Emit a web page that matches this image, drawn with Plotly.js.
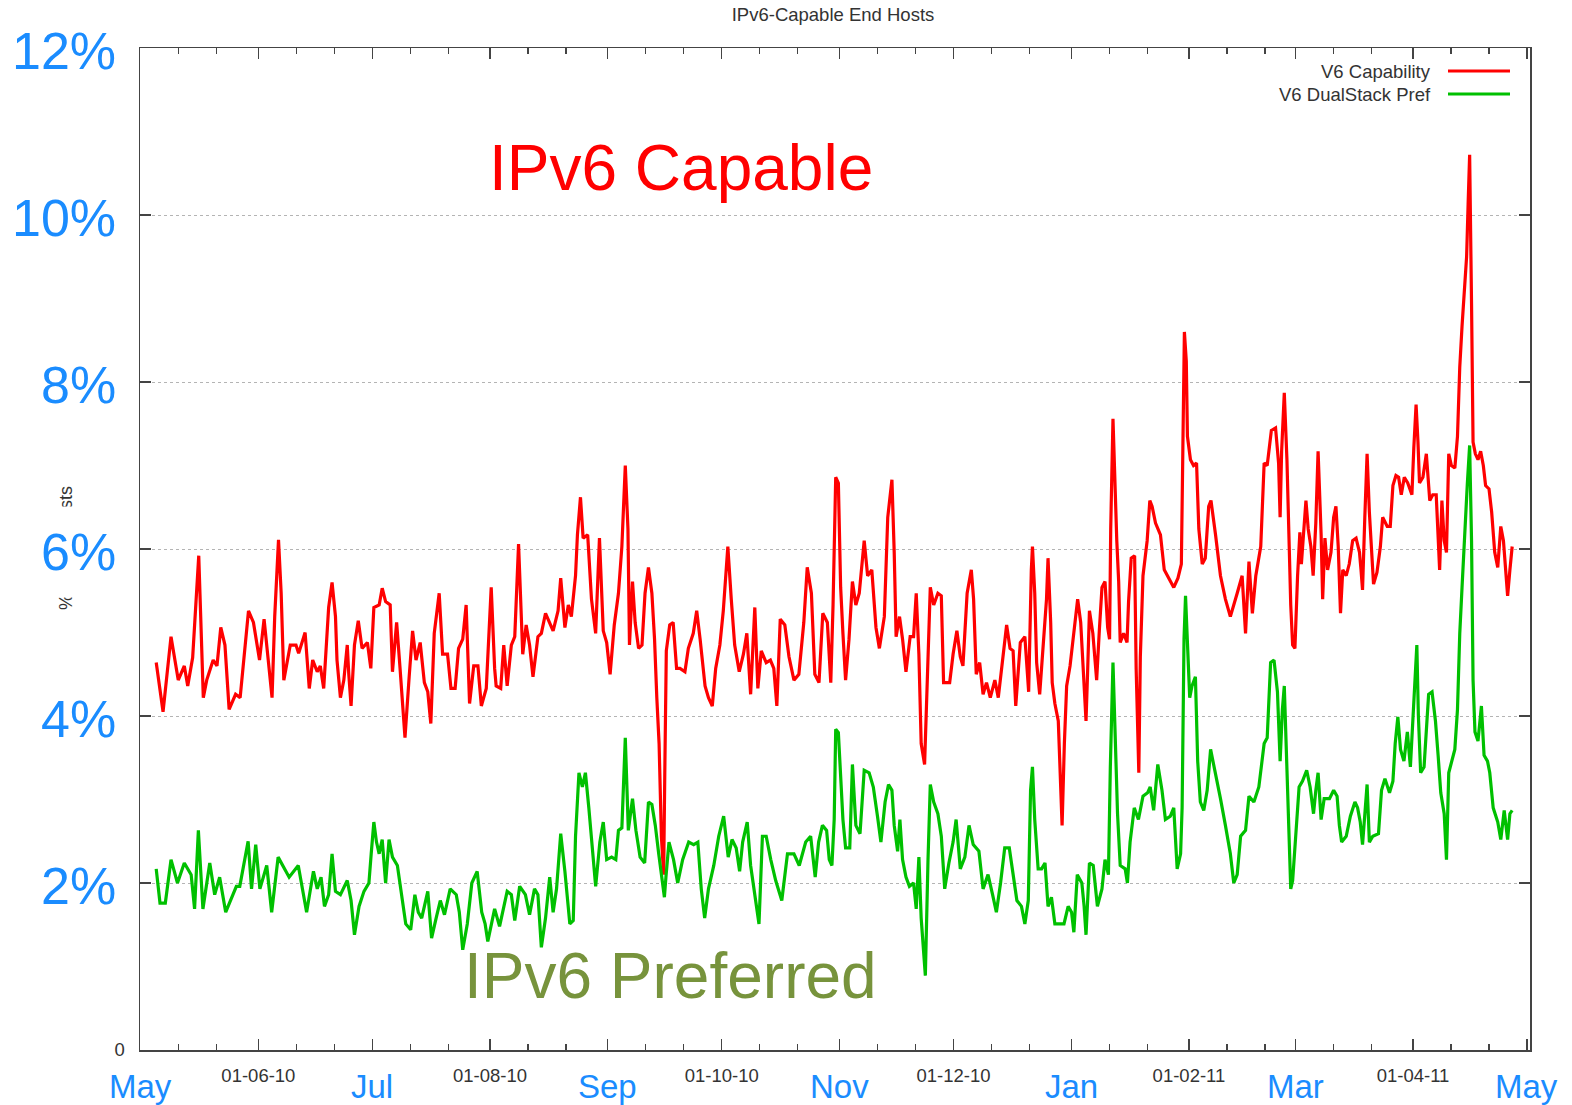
<!DOCTYPE html>
<html><head><meta charset="utf-8">
<script src="https://cdn.plot.ly/plotly-3.0.1.min.js"></script>
<style>html,body{margin:0;padding:0;background:#fff;}#chart{width:1572px;height:1105px;}</style>
</head><body><div id="chart"></div><script>
// [day offset from 2010-05-01, percent]
const capabilitySeries = [[4.1,4.64],[5.9,4.05],[8.0,4.95],[9.9,4.43],[11.5,4.6],[12.4,4.36],[13.7,4.7],[15.3,5.92],[16.5,4.22],[17.4,4.43],[19.1,4.67],[20.1,4.6],[21.1,5.06],[22.2,4.85],[23.3,4.08],[25.0,4.26],[26.2,4.22],[27.1,4.64],[28.4,5.26],[29.7,5.12],[31.3,4.67],[32.5,5.16],[33.7,4.67],[34.6,4.22],[35.3,5.19],[36.3,6.11],[37.0,5.47],[37.7,4.43],[39.4,4.85],[40.9,4.85],[41.6,4.75],[43.3,5.0],[44.4,4.33],[45.3,4.67],
[46.5,4.53],[47.3,4.6],[48.2,4.33],[49.1,5.06],[49.5,5.3],[50.4,5.6],[51.3,5.19],[51.7,4.67],[52.6,4.22],[53.5,4.43],[54.4,4.85],[54.8,4.5],[55.4,4.12],[56.3,4.85],[57.3,5.14],[58.3,4.81],[59.7,4.88],[60.6,4.57],[61.4,5.3],[62.8,5.33],[63.6,5.53],[64.5,5.37],[65.7,5.33],[66.3,4.53],[67.4,5.12],[68.3,4.57],[68.9,4.19],[69.6,3.74],[70.7,4.47],[71.6,5.02],[72.5,4.67],[73.6,4.88],[74.7,4.4],[75.6,4.29],[76.4,3.91],[77.3,4.99],[78.6,5.47],[79.5,4.74],[80.8,4.74],[81.7,4.33],[82.8,4.33],[83.7,4.81],[84.8,4.92],[85.7,5.33],[86.6,4.15],[87.7,4.6],[88.8,4.6],[89.7,4.12],[91.0,4.33],
[92.3,5.54],[93.2,4.57],[93.6,4.36],[94.8,4.33],[95.6,4.85],[96.5,4.36],[97.6,4.85],[98.5,4.95],[99.5,6.06],[100.6,4.74],[101.5,5.09],[102.4,4.85],[103.3,4.47],[104.6,4.95],[105.5,4.99],[106.6,5.23],[108.6,5.02],[109.9,5.26],[110.6,5.65],[111.7,5.06],[112.6,5.33],[113.4,5.19],[114.5,5.68],[115.0,6.17],[115.8,6.62],[116.5,6.13],[117.7,6.17],[118.7,5.4],[119.8,4.99],[120.8,6.13],[121.8,5.02],[122.7,4.88],[123.6,4.5],[124.7,5.09],[125.8,5.47],[126.7,6.03],[127.6,7.0],[128.3,6.24],[128.7,4.85],[129.5,5.61],[130.2,5.12],[131.1,4.81],[132.0,4.85],[132.8,5.47],[133.7,5.78],[134.6,5.47],[135.3,4.92],[135.9,4.22],[136.5,3.67],[137.1,2.56],[137.7,2.1],
[138.0,3.32],[138.4,4.78],[139.3,5.09],[140.2,5.12],[141.1,4.57],[142.0,4.57],[143.3,4.53],[144.2,4.81],[145.5,4.99],[146.4,5.26],[147.3,4.92],[148.6,4.36],[149.5,4.22],[150.5,4.12],[151.4,4.57],[152.5,4.85],[153.4,5.26],[154.6,6.03],[155.5,5.4],[156.4,4.85],[157.6,4.53],[158.7,4.74],[159.6,4.99],[160.6,4.26],[161.7,5.3],[162.5,4.33],[163.4,4.78],[164.7,4.64],[165.8,4.67],[166.7,4.57],[167.5,4.12],[168.4,5.16],[169.6,5.09],[170.7,4.71],[172.0,4.43],[173.3,4.5],[174.6,5.12],[175.5,5.78],[176.6,5.47],[177.5,4.5],[178.6,4.4],[179.6,5.23],[180.8,5.12],[181.7,4.4],[182.3,5.33],[183.0,6.86],
[183.7,6.79],[184.3,5.54],[184.9,4.99],[185.6,4.43],[186.5,4.92],[187.4,5.61],[188.3,5.33],[189.2,5.47],[190.5,6.1],[191.4,5.68],[192.5,5.75],[193.6,5.06],[194.5,4.81],[195.8,5.19],[196.7,6.38],[197.8,6.83],[198.4,5.96],[198.9,4.95],[199.8,5.19],[200.6,4.92],[201.5,4.53],[202.6,4.95],[203.5,4.95],[204.2,5.47],[204.9,4.74],[205.5,3.67],[206.4,3.42],[207.3,4.57],[207.9,5.54],[208.8,5.33],[209.9,5.47],[210.8,5.44],[211.4,4.4],[213.0,4.4],[213.9,4.74],[214.9,5.02],[215.8,4.71],[216.5,4.6],[217.6,5.47],[218.7,5.75],[219.3,5.4],[220.0,4.5],[220.9,4.64],[221.8,4.26],[222.7,4.4],[223.7,4.22],[224.9,4.43],[225.8,4.22],[227.1,4.74],[228.0,5.09],[228.9,4.81],
[229.7,4.78],[230.4,4.12],[231.0,4.57],[231.6,4.88],[232.8,4.95],[233.4,4.53],[233.8,4.29],[234.5,5.75],[234.8,6.03],[235.4,5.47],[235.9,4.64],[236.7,4.26],[237.4,4.67],[238.1,5.06],[238.5,5.4],[238.9,5.89],[239.6,5.12],[240.0,4.4],[240.7,4.15],[241.6,3.94],[242.0,3.32],[242.6,2.69],[243.2,3.67],[243.8,4.36],[244.7,4.6],[245.4,4.88],[246.0,5.12],[246.7,5.4],[247.5,5.12],[248.2,4.43],[248.9,3.94],[249.3,4.5],[249.8,5.26],[250.7,4.99],[251.3,4.6],[251.7,4.43],[252.4,5.02],[253.1,5.54],[253.9,5.61],[254.6,5.06],[255.1,4.92],[255.4,6.24],[256.0,7.56],[256.6,6.58],[257.0,6.1],[257.5,5.61],[257.9,4.88],[258.8,4.99],[259.7,4.88],[260.1,5.37],[260.8,5.89],[261.7,5.92],[262.1,4.57],[262.8,3.32],[263.2,4.71],[263.9,5.68],[265.0,6.1],[265.7,6.58],[266.3,6.51],[267.2,6.31],[268.5,6.17],[269.5,5.75],[270.7,5.65],[272.0,5.54],[273.1,5.65],[274.0,5.82],[274.4,7.21],[274.8,8.6],
[275.3,8.25],[275.6,7.35],[276.4,7.07],[277.2,7.0],[278.0,7.03],[278.6,6.24],[279.5,5.82],[280.3,5.89],[281.2,6.51],[281.8,6.58],[283.0,6.17],[284.3,5.68],[285.6,5.4],[286.9,5.19],[288.7,5.47],[290.0,5.68],[290.9,4.99],[291.8,5.85],[292.7,5.23],[293.6,5.68],[294.9,6.03],[295.8,7.03],[296.6,7.0],[297.7,7.42],[298.8,7.45],[299.6,7.03],[300.0,6.38],[300.4,7.17],[301.1,7.87],[301.8,7.07],[302.4,6.03],[302.8,5.33],[303.3,4.85],[303.9,4.81],[304.6,5.68],[305.2,6.2],[305.6,5.82],[306.2,6.17],[306.8,6.58],[307.4,6.24],[308.1,6.03],[308.7,5.68],[309.4,6.31],[310.0,7.17],[310.8,6.17],[311.2,5.4],[311.8,6.13],[312.5,5.75],[313.4,5.96],[314.1,6.38],[314.7,6.51],[315.3,6.03],[315.9,5.23],[316.5,5.75],[317.4,5.68],[318.2,5.82],[319.1,6.1],[320.0,6.13],[320.9,5.96],
[321.3,5.75],[321.7,5.51],[322.3,6.38],[322.9,7.14],[323.5,6.44],[323.9,6.1],[324.6,5.58],[325.5,5.72],[326.4,6.03],[327.0,6.38],[328.2,6.27],[329.0,6.27],[329.7,6.76],[330.5,6.88],[331.2,6.86],[331.9,6.65],[332.7,6.86],[333.6,6.79],[334.7,6.65],[335.2,7.21],[335.8,7.73],[336.3,7.28],[336.7,6.79],[337.6,6.86],[338.5,7.14],[339.4,6.58],[340.2,6.65],[341.1,6.65],[342.0,5.75],[342.6,6.58],[343.2,6.1],[343.8,5.96],[344.4,7.14],[345.1,7.0],[346.0,6.97],[346.7,7.35],[347.3,8.18],[347.9,8.67],[348.5,9.08],[349.1,9.5],[349.5,10.13],[349.9,10.72],[350.4,8.94],[350.8,7.28],[351.4,7.14],[352.1,7.07],[352.8,7.17],[353.5,7.0],[354.1,6.76],[355.0,6.72],[355.7,6.44],[356.5,5.96],[357.3,5.78],[358.1,6.27],[358.8,6.1],[359.4,5.75],[359.9,5.44],[360.5,5.75],[361.1,6.03]];

const dualStackSeries = [[4.1,2.17],[5.1,1.76],[6.5,1.76],[8.0,2.28],[9.7,2.0],[11.5,2.24],[13.3,2.1],[14.2,1.69],[15.2,2.63],[16.4,1.69],[18.2,2.24],[19.5,1.86],[20.8,2.07],[22.4,1.65],[25.2,1.96],[26.1,1.96],[28.3,2.5],[29.2,1.93],[30.3,2.46],[31.4,1.93],[33.2,2.21],[34.5,1.65],[36.2,2.31],[39.1,2.07],[41.5,2.21],[43.7,1.65],[45.5,2.14],
[46.5,1.93],[47.5,2.07],[48.4,1.72],[49.5,1.86],[50.4,2.35],[51.3,1.9],[52.6,1.86],[54.4,2.03],[55.4,1.79],[56.3,1.38],[57.5,1.72],[58.8,1.9],[60.1,2.0],[60.7,2.35],[61.4,2.73],[62.1,2.49],[62.8,2.35],[63.6,2.52],[64.5,2.0],[65.4,2.52],[66.3,2.31],[67.6,2.21],[68.7,1.86],[69.8,1.51],[71.1,1.44],[72.2,1.86],[73.1,1.65],[74.0,1.58],[75.6,1.9],[76.6,1.34],[77.8,1.58],[78.9,1.79],[80.0,1.62],[81.5,1.93],[83.1,1.86],[83.9,1.65],[84.8,1.2],[86.0,1.51],[87.2,2.0],[88.6,2.14],[89.8,1.65],[90.7,1.51],[91.4,1.3],
[93.2,1.69],[94.5,1.48],[96.5,1.9],[97.6,1.86],[98.5,1.55],[99.8,1.96],[101.3,1.86],[102.4,1.62],[103.7,1.93],[104.6,1.86],[105.5,1.23],[106.6,1.58],[107.7,2.07],[108.6,1.65],[109.5,1.93],[110.6,2.59],[111.7,2.14],[113.0,1.51],[113.9,1.55],[114.5,2.56],[115.4,3.32],[116.3,3.15],[117.1,3.32],[118.0,2.9],[118.9,2.42],[119.8,1.96],[120.9,2.49],[121.8,2.73],[122.7,2.28],[124.0,2.31],[125.1,2.28],[125.8,2.63],[126.7,2.66],[127.6,3.74],[128.4,2.63],[129.5,3.01],[130.4,2.63],[131.5,2.31],[132.7,2.24],[133.7,2.97],[134.6,2.94],[135.5,2.69],[136.4,2.35],[137.3,2.07],[137.9,1.83],
[138.3,2.07],[139.1,2.49],[140.3,2.28],[141.4,2.0],[142.7,2.28],[144.3,2.49],[145.6,2.46],[146.7,2.49],[147.6,1.93],[148.5,1.58],[149.5,1.93],[150.9,2.21],[152.2,2.56],[153.5,2.8],[154.7,2.31],[155.7,2.52],[156.8,2.42],[157.7,2.14],[158.5,2.49],[159.7,2.73],[160.6,2.21],[161.7,1.83],[162.8,1.51],[163.7,2.56],[164.7,2.56],[165.9,2.28],[167.2,2.03],[168.8,1.79],[170.3,2.35],[172.0,2.35],[173.4,2.21],[175.1,2.49],[176.4,2.56],[177.6,2.07],[178.5,2.49],[179.5,2.69],[180.6,2.63],[181.3,2.28],[182.0,2.21],[182.6,2.76],
[183.0,3.84],[183.7,3.8],[184.3,3.18],[184.9,2.76],[185.6,2.42],[186.7,2.42],[187.4,3.42],[188.3,2.69],[189.4,2.59],[190.5,3.35],[191.8,3.32],[192.9,3.15],[194.0,2.8],[194.9,2.49],[196.0,2.97],[196.9,3.18],[197.8,3.11],[198.4,2.69],[199.3,2.38],[199.9,2.76],[200.6,2.28],[201.5,2.07],[202.4,1.96],[203.5,2.0],[204.2,1.69],[204.9,2.31],[205.5,1.58],[206.1,1.23],[206.6,0.89],[207.3,2.28],[207.9,3.18],[208.8,2.97],[209.9,2.83],[210.8,2.56],[211.7,1.93],[212.8,2.24],[213.9,2.49],[214.7,2.76],[215.8,2.17],[217.0,2.31],[218.1,2.69],[219.2,2.46],[220.7,2.38],[221.8,1.93],[223.1,2.1],[224.3,1.86],[225.3,1.65],[226.4,2.0],[227.5,2.42],[228.7,2.42],
[229.9,2.07],[230.7,1.79],[231.9,1.72],[232.8,1.51],[233.7,1.79],[234.3,3.11],[234.8,3.39],[235.4,2.76],[236.3,2.17],[237.2,2.17],[238.1,2.24],[238.9,1.72],[239.8,1.83],[240.7,1.51],[242.0,1.51],[243.1,1.51],[244.2,1.72],[245.1,1.65],[245.7,1.41],[246.6,2.1],[247.8,2.0],[248.4,1.72],[248.9,1.38],[249.8,2.24],[250.8,2.21],[251.9,1.72],[253.1,1.93],[253.9,2.28],[254.8,2.1],[255.3,3.39],[256.0,4.64],[256.6,3.67],[257.2,2.83],[257.9,2.21],[259.2,2.17],[259.8,2.0],[260.5,2.49],[261.6,2.9],[262.7,2.76],[263.9,3.04],[265.1,3.08],[265.8,3.15],[266.7,2.87],[267.8,3.42],[268.9,3.11],[269.8,2.76],[271.1,2.8],[272.0,2.9],[272.9,2.17],[273.8,2.35],[274.2,2.9],[274.7,4.92],[275.1,5.44],
[275.5,4.99],[276.2,4.22],[276.8,4.36],[277.7,4.47],[278.3,3.46],[279.0,2.97],[279.9,2.87],[280.8,3.11],[281.7,3.6],[283.0,3.32],[284.3,3.01],[285.6,2.69],[286.9,2.35],[287.8,2.0],[288.7,2.1],[289.6,2.56],[290.9,2.63],[291.8,3.04],[293.1,2.97],[294.4,3.15],[295.8,3.67],[296.6,3.74],[297.5,4.64],[298.4,4.67],[299.3,4.29],[300.0,3.46],[300.6,4.08],[301.1,4.36],[301.8,3.25],[302.4,2.49],[302.8,1.93],[303.3,2.03],[304.1,2.63],[305.0,3.15],[305.9,3.22],[307.0,3.35],[307.9,3.15],[308.8,2.83],[309.4,3.11],[310.0,3.32],[310.8,2.76],[311.6,3.01],[313.0,3.01],[314.1,3.11],[315.0,3.04],[315.6,2.69],[316.2,2.49],[317.4,2.56],[318.5,2.8],[319.7,2.97],
[320.4,2.9],[321.1,2.73],[321.7,2.46],[322.3,2.83],[322.9,3.18],[323.5,2.49],[324.4,2.56],[325.9,2.59],[326.7,3.11],[327.6,3.25],[328.8,3.08],[329.7,3.22],[330.3,3.67],[331.0,3.99],[331.7,3.6],[332.6,3.46],[333.5,3.81],[334.3,3.39],[334.9,3.94],[335.4,4.29],[336.0,4.85],[336.4,4.01],[337.0,3.32],[337.9,3.39],[338.5,3.91],[339.1,4.26],[340.0,4.29],[340.9,3.94],[341.6,3.53],[342.3,3.08],[343.2,2.83],[343.8,2.28],[344.4,3.32],[345.1,3.46],[346.0,3.6],[346.7,4.08],[347.3,4.99],[347.9,5.54],[348.6,6.24],[349.3,6.79],[349.9,7.24],[350.4,6.1],[350.8,4.43],[351.3,3.81],[352.1,3.7],[353.0,4.12],[353.7,3.53],[354.6,3.46],[355.2,3.32],[356.1,2.9],[357.3,2.73],[358.1,2.52],[359.0,2.87],[359.9,2.52],[360.5,2.83],[361.1,2.87]];

const seriesNames = ["V6 Capability", "V6 DualStack Pref"];
const monthTickDates = ["2010-05-01","2010-06-01","2010-07-01","2010-08-01","2010-09-01","2010-10-01","2010-11-01","2010-12-01","2011-01-01","2011-02-01","2011-03-01","2011-04-01","2011-05-01"];
const monthTickText = ["","01-06-10","","01-08-10","","01-10-10","","01-12-10","","01-02-11","","01-04-11",""];
const bigMonthDates = ["2010-05-01","2010-07-01","2010-09-01","2010-11-01","2011-01-01","2011-03-01","2011-05-01"];
const bigMonthLabels = ["May","Jul","Sep","Nov","Jan","Mar","May"];
const pctValues = [2,4,6,8,10,12];
const pctLabels = ["2%","4%","6%","8%","10%","12%"];
const yTickVals = [0,2,4,6,8,10,12];
const yTickText = ["0","","","","","",""];

const BASE = Date.UTC(2010,4,1);
function toDate(d){ return new Date(BASE + d*86400000).toISOString().slice(0,19).replace('T',' '); }

// minor ticks at the 11th and 21st of each month
const minorVals = [];
monthTickDates.slice(0,-1).forEach(m => { minorVals.push(m.slice(0,8)+"11", m.slice(0,8)+"21"); });

const FONT = "Liberation Sans, Arial, sans-serif";
const BLUE = "#1a8cff";
const L = 140, R = 1530, T = 48, B = 1050;
const px = x => (x - L) / (R - L);
const py = y => (B - y) / (B - T);

const traces = [
  {x: capabilitySeries.map(p=>toDate(p[0])), y: capabilitySeries.map(p=>p[1]), name: seriesNames[0], mode:'lines', line:{color:'#ff0000', width:3.2}},
  {x: dualStackSeries.map(p=>toDate(p[0])), y: dualStackSeries.map(p=>p[1]), name: seriesNames[1], mode:'lines', line:{color:'#00c000', width:3.2}}
];

const annotations = [];
annotations.push({xref:'paper', yref:'paper', x:px(66), y:py(548), xanchor:'center', yanchor:'middle', text:'% of End Hosts', textangle:-90, showarrow:false, font:{family:FONT, size:18, color:'#333'}});
pctValues.forEach((v,i)=>{
  const boxed = v===6;
  annotations.push({xref:'paper', yref:'y', x:px(117), y:v, xanchor:'right', yanchor:'middle', yshift:-3, xshift: boxed ? 16 : 0, text:pctLabels[i], showarrow:false,
    font:{family:FONT, size:52, color:BLUE}, bgcolor: boxed ? '#ffffff' : 'rgba(0,0,0,0)', borderpad: boxed ? 16 : 0});
});
bigMonthDates.forEach((d,i)=>{
  annotations.push({xref:'x', yref:'paper', x:d, y:0, xanchor:'center', yanchor:'middle', yshift:-36, text:bigMonthLabels[i], showarrow:false,
    font:{family:FONT, size:33, color:BLUE}});
});
annotations.push({xref:'paper', yref:'paper', x:px(681), y:py(168), xanchor:'center', yanchor:'middle', text:'IPv6 Capable', showarrow:false, font:{family:FONT, size:64, color:'#ff0000'}});
annotations.push({xref:'paper', yref:'paper', x:px(670), y:py(976), xanchor:'center', yanchor:'middle', text:'IPv6 Preferred', showarrow:false, font:{family:FONT, size:64, color:'#77933c'}});
annotations.push({xref:'paper', yref:'paper', x:px(1433), y:py(71), xanchor:'right', yanchor:'middle', text:seriesNames[0], showarrow:false, font:{family:FONT, size:18.5, color:'#333'}});
annotations.push({xref:'paper', yref:'paper', x:px(1433), y:py(94), xanchor:'right', yanchor:'middle', text:seriesNames[1], showarrow:false, font:{family:FONT, size:18.5, color:'#333'}});

const shapes = [
  {type:'line', xref:'paper', yref:'paper', x0:px(1448), x1:px(1510), y0:py(71), y1:py(71), line:{color:'#ff0000', width:3}},
  {type:'line', xref:'paper', yref:'paper', x0:px(1448), x1:px(1510), y0:py(94), y1:py(94), line:{color:'#00c000', width:3}}
];

const layout = {
  width:1572, height:1105,
  margin:{l:L, r:1572-R, t:T, b:1105-B, pad:0},
  paper_bgcolor:'#fff', plot_bgcolor:'#fff',
  showlegend:false,
  title:{text:'IPv6-Capable End Hosts', font:{family:FONT, size:18.5, color:'#333'}, xref:'container', yref:'container', x:833/1572, y:1-15/1105, xanchor:'center', yanchor:'middle'},
  xaxis:{type:'date', range:['2010-04-30 20:00','2011-05-01 19:00'], tickmode:'array', tickvals:monthTickDates, ticktext:monthTickText,
    ticks:'inside', ticklen:11, tickwidth:1.3, tickcolor:'#444', showline:true, linecolor:'#444', linewidth:1.5, mirror:'allticks',
    showgrid:false, zeroline:false, tickfont:{family:FONT, size:18.5, color:'#333'}, ticklabelstandoff:8,
    minor:{tickmode:'array', tickvals:minorVals, ticks:'inside', ticklen:6, tickwidth:1.3, tickcolor:'#444', showgrid:false}},
  yaxis:{range:[0,12], tickmode:'array', tickvals:yTickVals, ticktext:yTickText,
    ticks:'inside', ticklen:11, tickwidth:1.3, tickcolor:'#444', showline:true, linecolor:'#444', linewidth:1.5, mirror:'allticks',
    showgrid:true, gridcolor:'#b4b4b4', gridwidth:1, griddash:'dot', zeroline:false, ticklabelstandoff:10,
    tickfont:{family:FONT, size:18.5, color:'#333'}},
  annotations: annotations,
  shapes: shapes
};

Plotly.newPlot('chart', traces, layout, {displayModeBar:false, staticPlot:true});
</script></body></html>
